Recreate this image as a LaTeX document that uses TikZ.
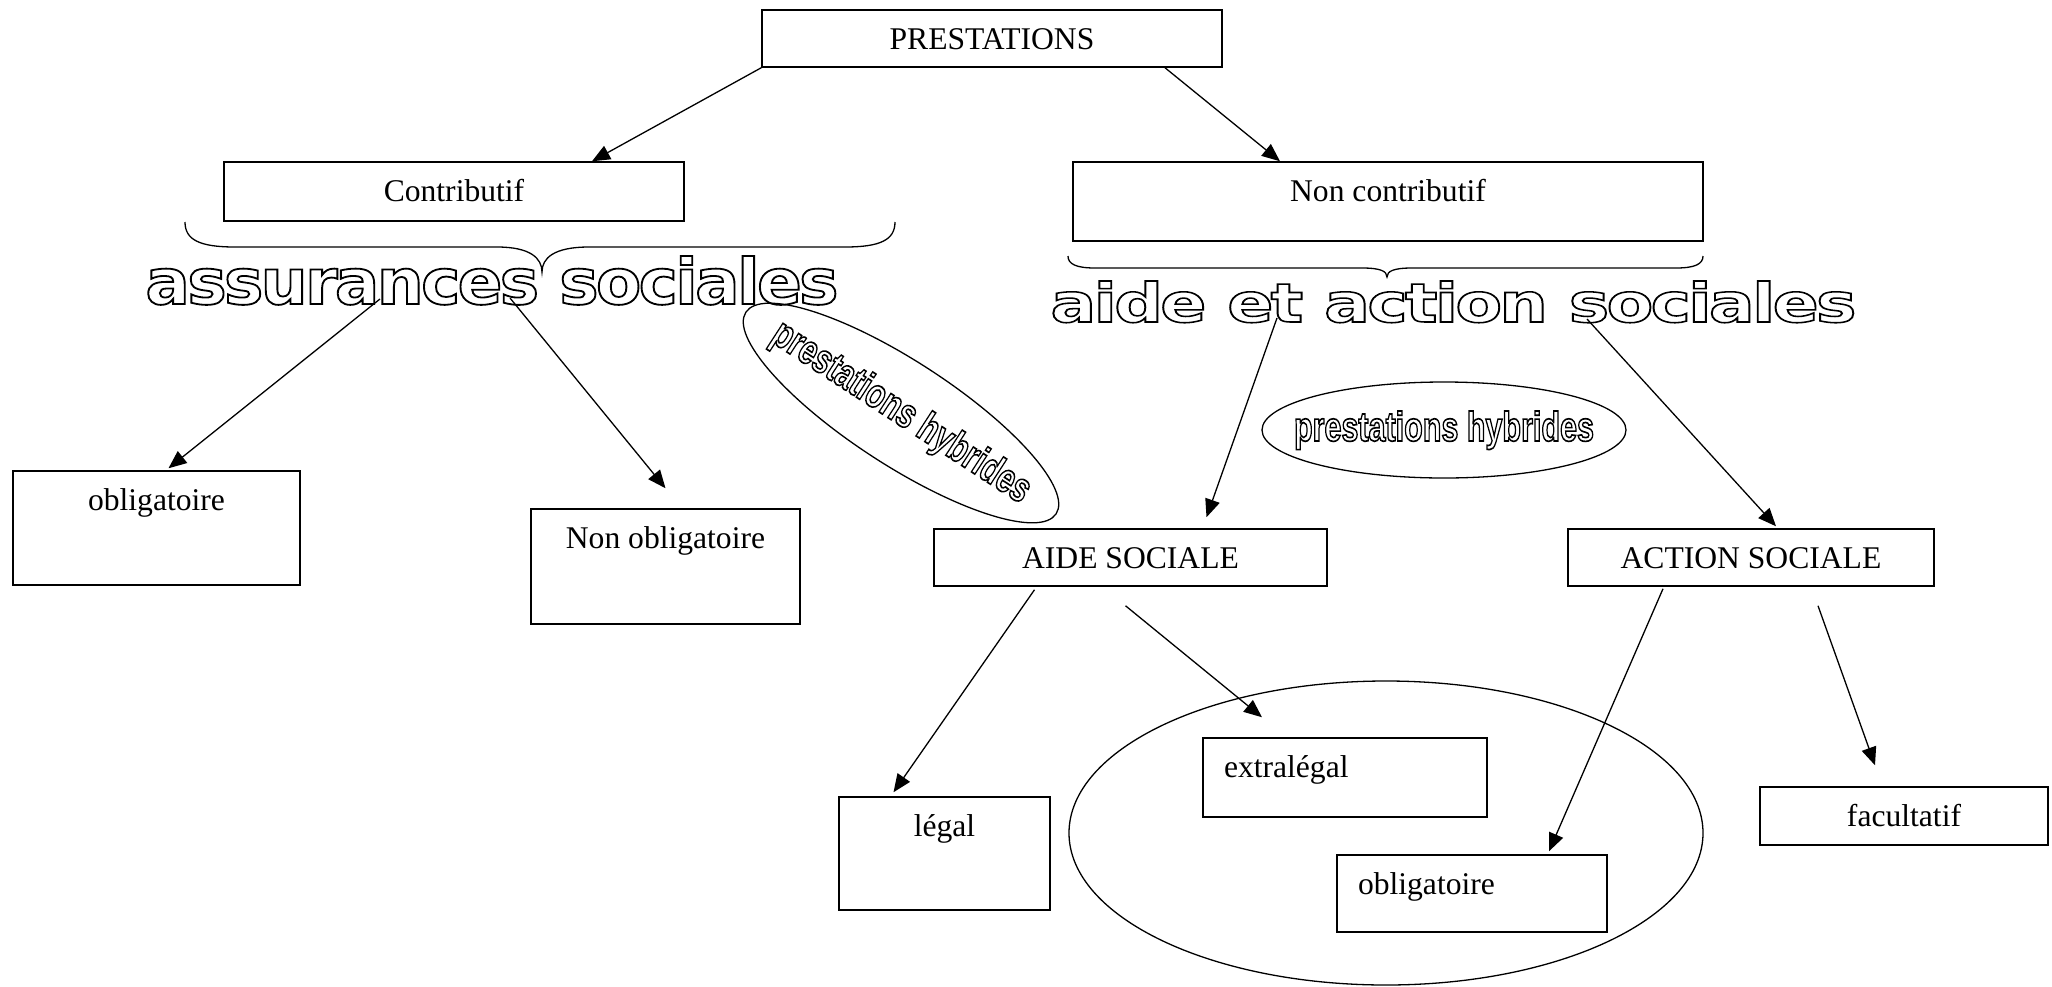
\documentclass[tikz,border=0pt]{standalone}
\usepackage{fontspec}
\setmainfont{Liberation Serif}
\newfontfamily\widefont{DejaVu Sans}[LetterSpace=-4]
\newfontfamily\narrowfont{Liberation Sans}
\usetikzlibrary{arrows.meta,shapes.geometric,calc}
\newcommand\olt[1]{\special{pdf:literal direct 1 Tr 0.8 w}#1\special{pdf:literal direct 0 Tr}}
\newcommand\hybtext{\makebox[0pt]{\raisebox{-5.5pt}[0pt][0pt]{\resizebox{150pt}{15pt}{\narrowfont\bfseries\fontsize{20}{20}\selectfont\olt{prestations hybrides}}}}}
\tikzset{
  box/.style={draw, line width=.75pt, inner sep=0pt, text height=19.5pt,
    font=\fontsize{15.8}{19}\selectfont},
  leftbox/.style={box, inner xsep=10.5pt, align=left},
  arr/.style={line width=.65pt, -{Triangle[length=9pt,width=7.5pt]}},
  thin/.style={line width=.65pt},
  oval/.style={draw, ellipse, line width=.65pt, inner sep=0pt},
}
\begin{document}
\begin{tikzpicture}[x=0.5pt,y=-0.5pt]
\useasboundingbox (0,0) rectangle (2052,986);
% boxes
\node[box, minimum width=230pt, text depth=9pt] (prest) at (992,38.5) {PRESTATIONS};
\node[box, minimum width=230pt, text depth=10pt] (contrib) at (454,191.5) {Contributif};
\node[box, minimum width=315pt, text depth=20pt] (nonc) at (1388,201.5) {Non contributif};
\node[box, minimum width=143.5pt, text depth=37.5pt] (oblig1) at (156.5,528) {obligatoire};
\node[box, minimum width=134.5pt, text depth=38pt] (nonoblig) at (665.5,566.5) {Non obligatoire};
\node[box, minimum width=196.5pt, text depth=9pt] (aidesoc) at (1130.5,557.5) {AIDE SOCIALE};
\node[box, minimum width=183pt, text depth=9pt] (actionsoc) at (1751,557.5) {ACTION SOCIALE};
\node[box, minimum width=105.5pt, text depth=37pt] (legal) at (944.5,853.5) {légal};
\node[leftbox, text width=121pt, text depth=20pt] (extra) at (1345,777.5) {extralégal};
\node[leftbox, text width=114pt, text depth=19pt] (oblig2) at (1472,893.5) {obligatoire};
\node[box, minimum width=144pt, text depth=9.5pt] (facult) at (1904,816) {facultatif};
% word art
\node[anchor=base west, inner sep=0pt] (wa1) at (145,304)
  {\resizebox{346.5pt}{24pt}{\widefont\bfseries\fontsize{28}{28}\selectfont\olt{assurances sociales}}};
\node[anchor=base west, inner sep=0pt] (wa2) at (1050,322)
  {\resizebox{403pt}{20.5pt}{\widefont\bfseries\fontsize{28}{28}\selectfont\olt{aide et action sociales}}};
% ellipses
\node[oval, minimum width=185pt, minimum height=52pt, rotate=-33] (hyb1) at (901,413) {\hybtext};
\node[oval, minimum width=182pt, minimum height=48pt] (hyb2) at (1444,430) {\hybtext};
\node[oval, minimum width=317pt, minimum height=152pt] (bigell) at (1386,833) {};
% braces
\draw[thin] (185,222) .. controls (185,240) and (200,247) .. (235,247) -- (497,247)
  .. controls (530,247) and (542,258) .. (542,272)
  .. controls (542,258) and (554,247) .. (589,247) -- (845,247)
  .. controls (880,247) and (895,240) .. (895,222);
\draw[thin] (1068,256) .. controls (1068,264) and (1076,268) .. (1095,268) -- (1362,268)
  .. controls (1380,268) and (1387,271) .. (1387,277)
  .. controls (1387,271) and (1394,268) .. (1412,268) -- (1676,268)
  .. controls (1695,268) and (1703,264) .. (1703,256);
% arrows
\draw[arr] (prest.south west) -- ($(contrib.north)+(138,0)$);
\draw[arr] ($(prest.south)+(173,0)$) -- ($(nonc.north)+(-108,0)$);
\draw[arr] ($(wa1.base west)+(235,-5)$) -- ($(oblig1.north)+(12,-2)$);
\draw[arr] ($(wa1.base west)+(365,-6)$) -- ($(nonoblig.north)+(0,-20)$);
\draw[arr] ($(wa2.base west)+(227,-4)$) -- ($(aidesoc.north)+(76,-11)$);
\draw[arr] ($(wa2.base west)+(537,-3)$) -- ($(actionsoc.north)+(25,-2)$);
\draw[arr] ($(aidesoc.south)+(-96,3)$) -- ($(legal.north)+(-51,-4)$);
\draw[arr] ($(aidesoc.south)+(-5,19)$) -- ($(extra.north)+(-83,-20)$);
\draw[arr] ($(actionsoc.south)+(-88,2)$) -- ($(oblig2.north)+(77,-3)$);
\draw[arr] ($(actionsoc.south)+(67,19)$) -- ($(facult.north)+(-29,-21)$);
\end{tikzpicture}
\end{document}
